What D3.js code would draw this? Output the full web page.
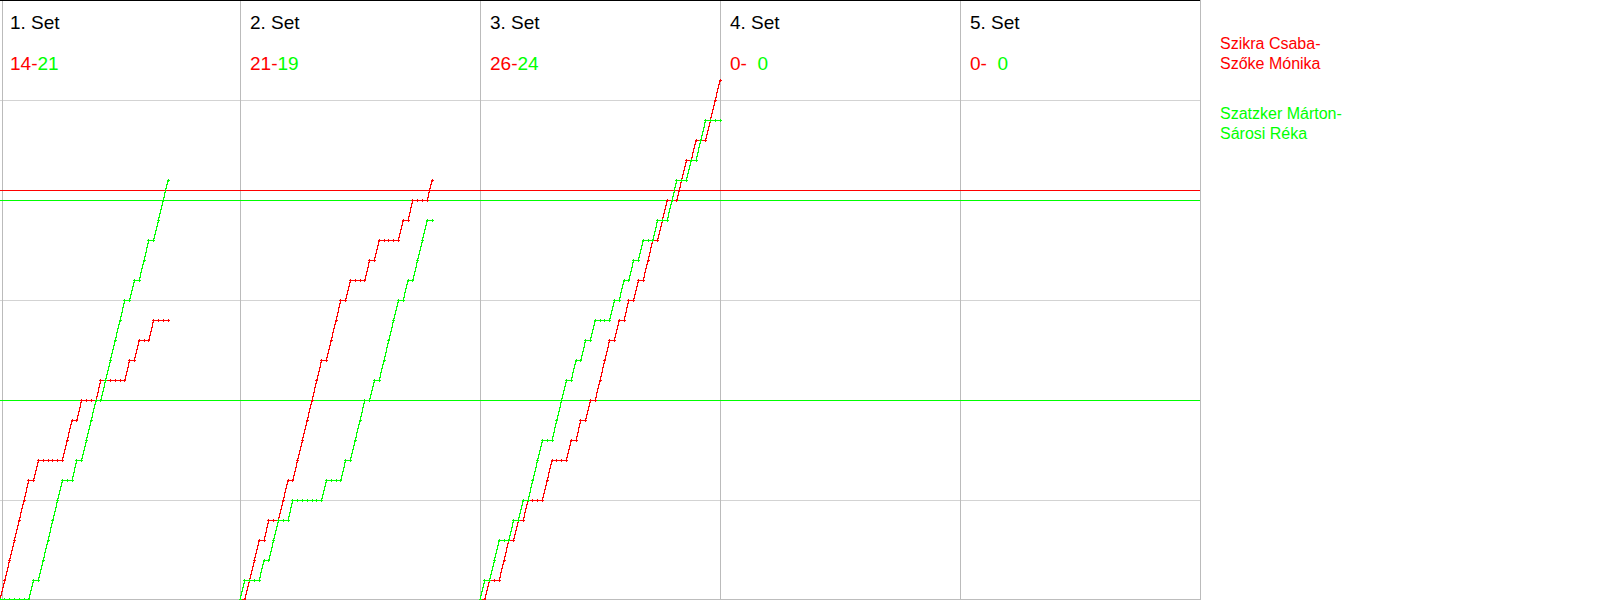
<!DOCTYPE html>
<html>
<head>
<meta charset="utf-8">
<script src="https://cdn.jsdelivr.net/npm/d3@7"></script>
<style>
  html, body { margin: 0; padding: 0; background: #fff; }
  svg { display: block; font-family: "Liberation Sans", Arial, sans-serif; }
</style>
</head>
<body>
<svg id="chart" width="1600" height="600"></svg>
<script>
// ---- data ----
const setLabels = ["1. Set", "2. Set", "3. Set", "4. Set", "5. Set"];
const teamNames = [["Szikra Csaba-", "Szőke Mónika"], ["Szatzker Márton-", "Sárosi Réka"]];
// rally winners per set: 1 = first team (red), 2 = second team (green)
const set1Rallies = [1,1,1,1,1,1, 2, 1, 2,2,2,2,2, 1,1, 2, 1, 2,2,2, 1, 2,2,2,2,2, 1, 2, 1, 2,2, 1, 2,2,2];
const set2Rallies = [2, 1,1,1, 2, 1, 2,2, 1,1, 2, 1,1,1,1,1,1, 2, 1,1,1, 2, 1, 2,2,2, 1, 2, 1, 2,2,2,2, 1, 2, 1, 2,2,2, 1];
const set3Rallies = [2, 1, 2,2, 1,1, 2, 1, 2, 1, 2,2,2, 1,1, 2,2,2, 1, 2, 1, 2, 1, 2, 1,1,1, 2, 1, 2, 1, 2, 1, 2, 1,1, 2, 1,1, 2,2, 1,1, 2, 1, 2,2, 1,1,1];
const set4Rallies = [];
const set5Rallies = [];
const allSets = [set1Rallies, set2Rallies, set3Rallies, set4Rallies, set5Rallies];
const gridScores = [5, 15, 25];
const team1RefScores = [20.5];
const team2RefScores = [20, 10];
const maxRallies = 50;
const maxScore = 30;

// ---- styles ----
const teamColors = ["#ff0000", "#00ff00"];

const svg = d3.select("#chart");
const plotW = 1200, plotH = 600;

const xSet = d3.scaleBand().domain(setLabels).range([0, plotW]).paddingInner(0).paddingOuter(0);
const xRally = d3.scaleLinear().domain([0, maxRallies]).range([0, xSet.bandwidth()]);
const y = d3.scaleLinear().domain([0, maxScore]).range([plotH, 0]);
const py = s => Math.min(y(s) + 0.5, plotH - 0.5);

// horizontal grid
svg.append("g").selectAll("line").data(gridScores).join("line")
  .attr("x1", 0).attr("x2", plotW)
  .attr("y1", d => py(d)).attr("y2", d => py(d))
  .attr("stroke", "#d3d3d3").attr("stroke-width", 1).attr("shape-rendering", "crispEdges");

// bottom line
svg.append("line").attr("x1", 0).attr("x2", plotW).attr("y1", plotH - 0.5).attr("y2", plotH - 0.5)
  .attr("stroke", "#bdbdbd").attr("stroke-width", 1).attr("shape-rendering", "crispEdges");

// vertical set separators
const sepX = setLabels.map(d => xSet(d)).concat([plotW]);
svg.append("g").selectAll("line").data(sepX).join("line")
  .attr("x1", d => (d === 0 ? 2.5 : d + 0.5)).attr("x2", d => (d === 0 ? 2.5 : d + 0.5))
  .attr("y1", 0).attr("y2", plotH)
  .attr("stroke", "#bbbbbb").attr("stroke-width", 1).attr("shape-rendering", "crispEdges");

// top black line
svg.append("line").attr("x1", 0).attr("x2", plotW).attr("y1", 0.5).attr("y2", 0.5)
  .attr("stroke", "#000").attr("stroke-width", 1.5).attr("shape-rendering", "crispEdges");

// reference lines
const refs = team1RefScores.map(s => ({s, t: 0})).concat(team2RefScores.map(s => ({s, t: 1})));
svg.append("g").selectAll("line").data(refs).join("line")
  .attr("x1", 0).attr("x2", plotW)
  .attr("y1", d => py(d.s)).attr("y2", d => py(d.s))
  .attr("stroke", d => teamColors[d.t]).attr("stroke-width", 1).attr("shape-rendering", "crispEdges");

// score progression
const line = d3.line().x(d => d.x).y(d => d.y);
allSets.forEach((rallies, si) => {
  const x0 = xSet(setLabels[si]);
  const scores = [0, 0];
  const pts = [[], []];
  const push = (i) => {
    for (let t = 0; t < 2; t++) pts[t].push({x: x0 + xRally(i), y: py(scores[t])});
  };
  if (rallies.length) push(0);
  rallies.forEach((w, i) => { scores[w - 1] += 1; push(i + 1); });

  const g = svg.append("g");
  [0, 1].forEach(t => {
    if (!pts[t].length) return;
    g.append("path").attr("d", line(pts[t]))
      .attr("fill", "none").attr("stroke", teamColors[t]).attr("stroke-width", 1.2)
      .attr("shape-rendering", "crispEdges");
    g.append("path")
      .attr("d", pts[t].map(p => `M${p.x - 1.5},${p.y}h3M${p.x},${p.y - 1.5}v3`).join(""))
      .attr("stroke", teamColors[t]).attr("stroke-width", 1).attr("shape-rendering", "crispEdges");
  });

  // titles
  const tx = x0 + 10;
  svg.append("text").attr("x", tx).attr("y", 29).attr("font-size", 19).attr("fill", "#000")
    .text(setLabels[si]);
  const final = [0, 0];
  rallies.forEach(w => final[w - 1]++);
  const st = svg.append("text").attr("x", tx).attr("y", 70).attr("font-size", 19);
  st.append("tspan").attr("fill", teamColors[0]).text(final[0] + "-");
  st.append("tspan").attr("fill", teamColors[1]).text(String(final[1]).padStart(2, "\u2007"));
});

// legend
teamNames.forEach((lines, t) => {
  const txt = svg.append("text").attr("x", 1220).attr("y", 49 + t * 70).attr("font-size", 16)
    .attr("fill", teamColors[t]);
  lines.forEach((l, i) => txt.append("tspan").attr("x", 1220).attr("dy", i === 0 ? 0 : 20).text(l));
});
</script>
</body>
</html>
